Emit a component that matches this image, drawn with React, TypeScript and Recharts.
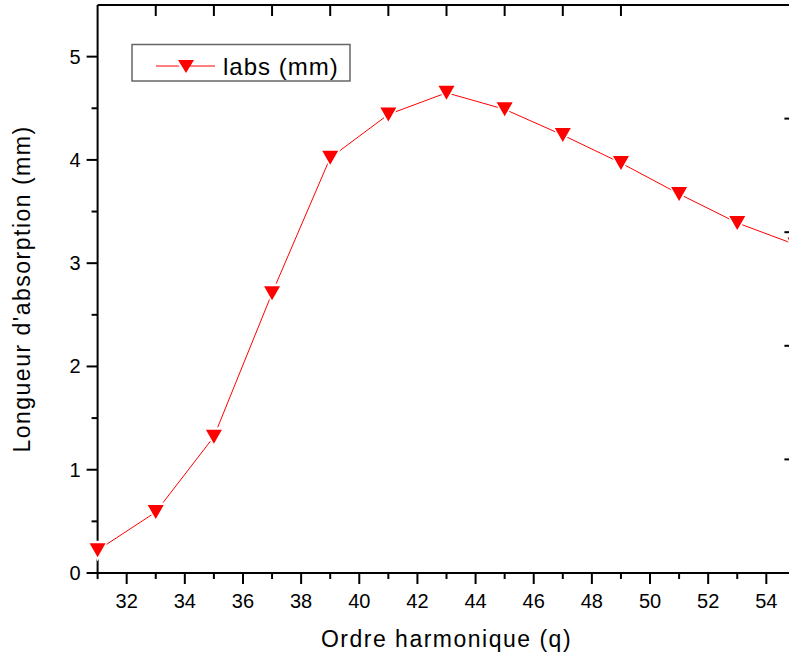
import React from 'react';
import { LineChart, Line, XAxis, YAxis } from 'recharts';

// harmonic order q and absorption length (mm)
const harmonicOrders = [31, 33, 35, 37, 39, 41, 43, 45, 47, 49, 51, 53, 55];
const absorptionLengths = [0.22, 0.59, 1.32, 2.71, 4.02, 4.44, 4.65, 4.49, 4.24, 3.97, 3.67, 3.39, 3.18];

const xTicks = [31, 32, 33, 34, 35, 36, 37, 38, 39, 40, 41, 42, 43, 44, 45, 46, 47, 48, 49, 50, 51, 52, 53, 54, 55];
const yTicks = [0, 0.5, 1, 1.5, 2, 2.5, 3, 3.5, 4, 4.5, 5];
const topTicks = [1, 2, 3, 4, 5, 6, 7, 8, 9];
const rightTicks = [0, 0.5, 1, 1.5, 2, 2.5, 3, 3.5, 4, 4.5, 5];

const data = harmonicOrders.map((q, i) => ({ q, labs: absorptionLengths[i] }));

const FONT = "Arial, 'Liberation Sans', sans-serif";
const RED = '#ff0000';

const BottomTick = (props: any) => {
  const { x, y, payload } = props;
  const major = payload.value % 2 === 0;
  return (
    <g>
      <line x1={x} x2={x} y1={y} y2={y + (major ? 11 : 6)} stroke="#000" strokeWidth={2} />
      {major && (
        <text x={x} y={y + 35} textAnchor="middle" fontSize={20} fontFamily={FONT} fill="#000">
          {payload.value}
        </text>
      )}
    </g>
  );
};

const LeftTick = (props: any) => {
  const { x, y, payload } = props;
  const major = Number.isInteger(payload.value);
  return (
    <g>
      <line x1={x - (major ? 11 : 6)} x2={x} y1={y} y2={y} stroke="#000" strokeWidth={2} />
      {major && (
        <text x={x - 17} y={y + 7} textAnchor="end" fontSize={20} fontFamily={FONT} fill="#000">
          {payload.value}
        </text>
      )}
    </g>
  );
};

const TopTick = (props: any) => {
  const { x, y } = props;
  return <line x1={x} x2={x} y1={y} y2={y + 11} stroke="#000" strokeWidth={2} />;
};

const RightTick = (props: any) => {
  const { x, y, payload } = props;
  const major = Number.isInteger(payload.value);
  return <line x1={x - (major ? 11 : 5)} x2={x} y1={y} y2={y} stroke="#000" strokeWidth={2} />;
};

const Marker = (props: any) => {
  const { cx, cy, index } = props;
  if (cx == null || cy == null) return <g key={index} />;
  return (
    <g key={index}>
      <polygon points={`${cx - 11},${cy - 9.5} ${cx + 11},${cy - 9.5} ${cx},${cy + 11}`} fill="#fff" />
      <polygon points={`${cx - 8},${cy - 7} ${cx + 8},${cy - 7} ${cx},${cy + 7}`} fill={RED} />
    </g>
  );
};

export default function App() {
  return (
    <div style={{ position: 'absolute', left: 0, top: 0, width: 789, height: 662, overflow: 'hidden', background: '#fff' }}>
      <LineChart width={820} height={662} data={data} margin={{ top: 0, right: 0, bottom: 0, left: 0 }}>
        <XAxis
          xAxisId="bottom"
          dataKey="q"
          type="number"
          domain={[31, 55]}
          ticks={xTicks}
          interval={0}
          height={89}
          tickSize={0}
          tickMargin={0}
          tickLine={false}
          tick={BottomTick}
          axisLine={{ stroke: '#000', strokeWidth: 2 }}
          label={{
            value: 'Ordre harmonique (q)',
            position: 'insideBottom',
            offset: 15,
            fontSize: 23,
            fontFamily: FONT,
            fill: '#000',
            letterSpacing: 1.5,
          }}
        />
        <XAxis
          xAxisId="top"
          orientation="top"
          type="number"
          domain={[0, 9.96]}
          allowDataOverflow
          ticks={topTicks}
          interval={0}
          height={5}
          tickSize={0}
          tickMargin={0}
          tickLine={false}
          tick={TopTick}
          axisLine={{ stroke: '#000', strokeWidth: 2 }}
        />
        <YAxis
          yAxisId="left"
          type="number"
          domain={[0, 5.5]}
          ticks={yTicks}
          interval={0}
          width={97.6}
          tickSize={0}
          tickMargin={0}
          tickLine={false}
          tick={LeftTick}
          axisLine={{ stroke: '#000', strokeWidth: 2 }}
          label={{
            value: "Longueur d'absorption (mm)",
            angle: -90,
            position: 'insideLeft',
            offset: 22,
            style: { textAnchor: 'middle' },
            fontSize: 23,
            fontFamily: FONT,
            fill: '#000',
            letterSpacing: 1.5,
          }}
        />
        <YAxis
          yAxisId="right"
          orientation="right"
          type="number"
          domain={[0, 5]}
          allowDataOverflow
          ticks={rightTicks}
          interval={0}
          width={24.6}
          tickSize={0}
          tickMargin={0}
          tickLine={false}
          tick={RightTick}
          axisLine={{ stroke: '#000', strokeWidth: 2 }}
        />
        <Line
          xAxisId="bottom"
          yAxisId="left"
          type="linear"
          dataKey="labs"
          stroke={RED}
          strokeWidth={1}
          dot={Marker}
          activeDot={false}
          isAnimationActive={false}
        />
      </LineChart>
      <svg width={789} height={662} style={{ position: 'absolute', left: 0, top: 0, pointerEvents: 'none' }}>
        <rect x={132} y={44.5} width={218} height={36.5} fill="#fff" stroke="#666" strokeWidth={1.5} />
        <line x1={156} x2={215} y1={66} y2={66} stroke={RED} strokeWidth={1} />
        <polygon points="175,59 191,59 183,73" fill="#fff" />
        <polygon points="178,60 194,60 186,73" fill={RED} />
        <text x={223} y={75} fontSize={24} fontFamily={FONT} fill="#000" letterSpacing={1}>
          labs (mm)
        </text>
      </svg>
    </div>
  );
}
